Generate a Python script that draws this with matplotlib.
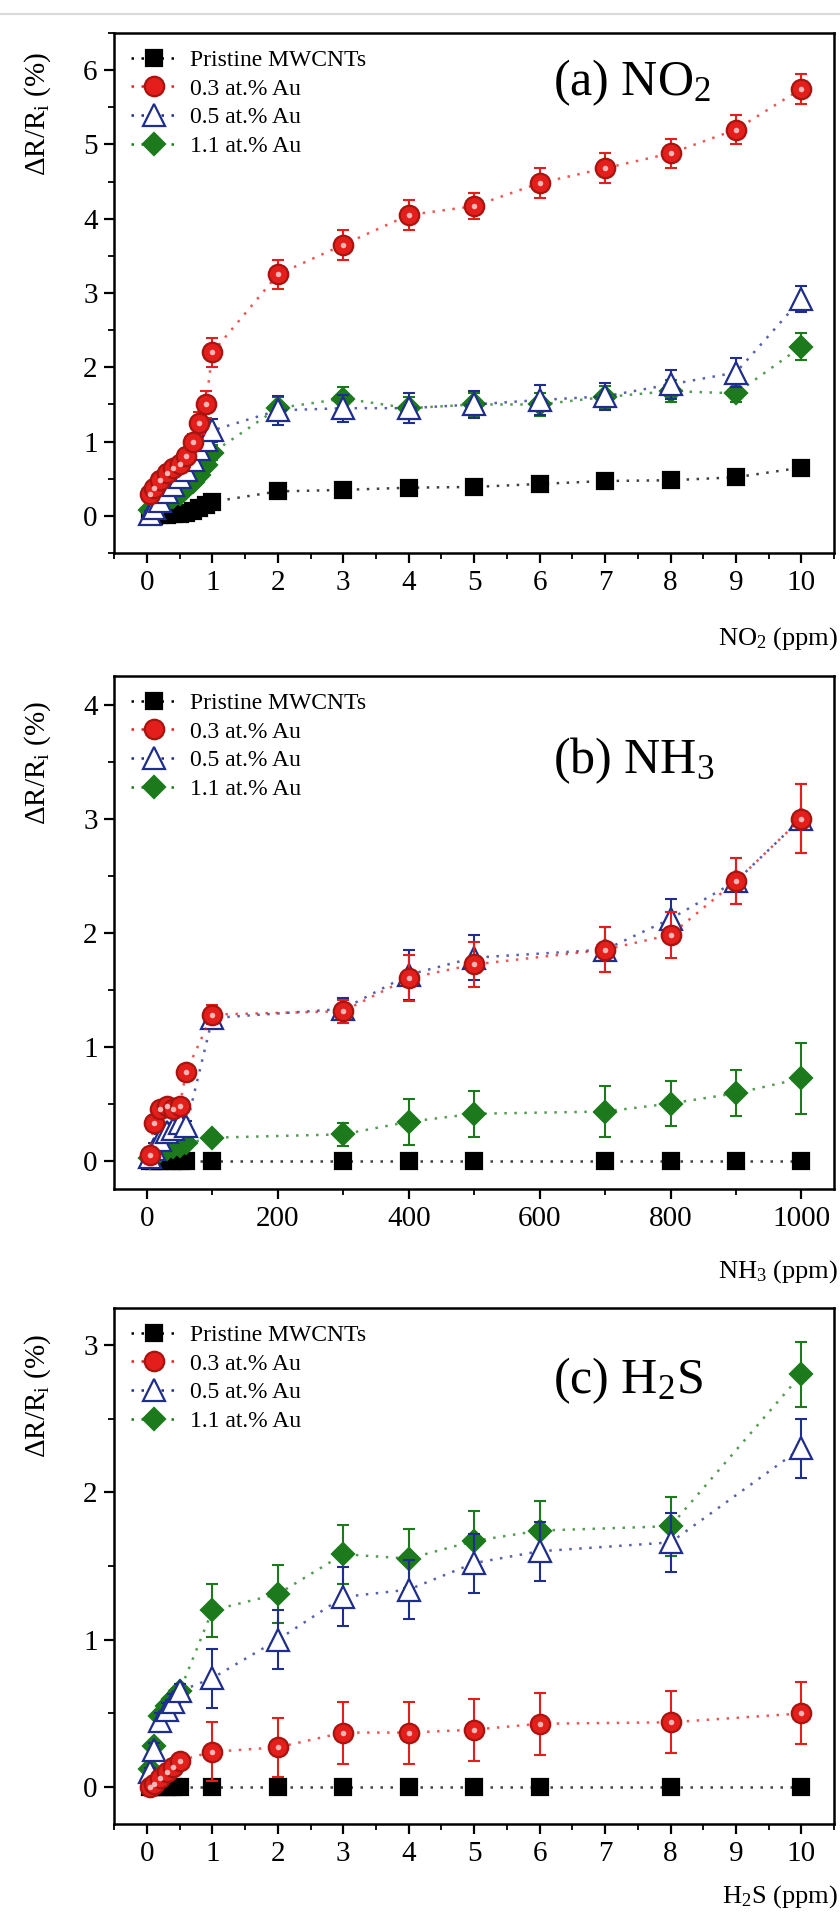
import matplotlib
matplotlib.use("Agg")
import matplotlib.pyplot as plt
from matplotlib.lines import Line2D
from matplotlib.ticker import MultipleLocator

plt.rcParams['font.family'] = ['Liberation Serif', 'DejaVu Serif']
plt.rcParams['mathtext.fontset'] = 'custom'
plt.rcParams['mathtext.rm'] = 'Liberation Serif'
plt.rcParams['mathtext.it'] = 'Liberation Serif:italic'

labels = ["Pristine MWCNTs", "0.3 at.% Au", "0.5 at.% Au", "1.1 at.% Au"]

# (a) NO2
no2_x = [0.05, 0.1, 0.2, 0.3, 0.4, 0.5, 0.6, 0.7, 0.8, 0.9, 1, 2, 3, 4, 5, 6, 7, 8, 9, 10]
no2_pristine = [0.0, 0.0, 0.01, 0.01, 0.02, 0.03, 0.04, 0.06, 0.1, 0.15, 0.19, 0.33, 0.35, 0.38, 0.39, 0.43, 0.47, 0.48, 0.52, 0.65]
no2_au03 = [0.3, 0.38, 0.48, 0.58, 0.65, 0.7, 0.8, 1.0, 1.25, 1.5, 2.2, 3.25, 3.65, 4.05, 4.17, 4.48, 4.68, 4.88, 5.2, 5.75]
no2_au05 = [0.02, 0.1, 0.2, 0.32, 0.42, 0.52, 0.62, 0.75, 0.9, 1.02, 1.15, 1.42, 1.45, 1.45, 1.5, 1.56, 1.61, 1.77, 1.93, 2.92]
no2_au11 = [0.08, 0.12, 0.15, 0.2, 0.25, 0.3, 0.38, 0.45, 0.55, 0.68, 0.85, 1.45, 1.58, 1.45, 1.5, 1.5, 1.6, 1.68, 1.65, 2.28]
no2_err_pristine = [0.02, 0.02, 0.02, 0.02, 0.02, 0.02, 0.02, 0.02, 0.03, 0.03, 0.03, 0.05, 0.05, 0.05, 0.05, 0.05, 0.05, 0.05, 0.05, 0.05]
no2_err_au03 = [0.05, 0.05, 0.05, 0.05, 0.05, 0.05, 0.08, 0.1, 0.15, 0.18, 0.2, 0.2, 0.2, 0.2, 0.18, 0.2, 0.2, 0.2, 0.2, 0.2]
no2_err_au05 = [0.05, 0.05, 0.05, 0.05, 0.05, 0.05, 0.08, 0.1, 0.12, 0.15, 0.15, 0.2, 0.18, 0.2, 0.18, 0.2, 0.18, 0.2, 0.2, 0.18]
no2_err_au11 = [0.03, 0.03, 0.03, 0.03, 0.03, 0.04, 0.05, 0.05, 0.06, 0.08, 0.1, 0.15, 0.15, 0.15, 0.15, 0.15, 0.15, 0.15, 0.12, 0.18]

# (b) NH3
nh3_x = [5, 10, 20, 30, 40, 50, 60, 100, 300, 400, 500, 700, 800, 900, 1000]
nh3_pristine = [0, 0, 0, 0, 0, 0, 0, 0, 0, 0, 0, 0, 0, 0, 0]
nh3_au03 = [0.05, 0.33, 0.45, 0.48, 0.45, 0.48, 0.78, 1.28, 1.31, 1.6, 1.72, 1.85, 1.98, 2.45, 3.0]
nh3_au05 = [0.03, 0.1, 0.18, 0.25, 0.28, 0.33, 0.3, 1.25, 1.33, 1.63, 1.78, 1.85, 2.12, 2.45, 3.0]
nh3_au11 = [0.02, 0.05, 0.08, 0.1, 0.12, 0.13, 0.15, 0.2, 0.23, 0.34, 0.41, 0.43, 0.5, 0.59, 0.72]
nh3_err_pristine = [0.01, 0.01, 0.01, 0.01, 0.01, 0.01, 0.01, 0.01, 0.01, 0.01, 0.01, 0.01, 0.01, 0.01, 0.01]
nh3_err_au03 = [0.03, 0.05, 0.05, 0.05, 0.05, 0.05, 0.05, 0.08, 0.1, 0.2, 0.2, 0.2, 0.2, 0.2, 0.3]
nh3_err_au05 = [0.03, 0.05, 0.05, 0.05, 0.05, 0.05, 0.05, 0.08, 0.1, 0.22, 0.2, 0.2, 0.17, 0.2, 0.3]
nh3_err_au11 = [0.02, 0.02, 0.02, 0.02, 0.02, 0.02, 0.02, 0.05, 0.1, 0.2, 0.2, 0.22, 0.2, 0.2, 0.31]

# (c) H2S
h2s_x = [0.05, 0.1, 0.2, 0.3, 0.4, 0.5, 1, 2, 3, 4, 5, 6, 8, 10]
h2s_pristine = [0, 0, 0, 0, 0, 0, 0, 0, 0, 0, 0, 0, 0, 0]
h2s_au03 = [0.0, 0.02, 0.06, 0.1, 0.14, 0.18, 0.24, 0.27, 0.37, 0.37, 0.39, 0.43, 0.44, 0.5]
h2s_au05 = [0.1, 0.25, 0.45, 0.52, 0.58, 0.65, 0.74, 1.0, 1.29, 1.34, 1.52, 1.6, 1.66, 2.3]
h2s_au11 = [0.12, 0.28, 0.48, 0.55, 0.6, 0.65, 1.2, 1.31, 1.58, 1.55, 1.67, 1.74, 1.77, 2.8]
h2s_err_pristine = [0.01, 0.01, 0.01, 0.01, 0.01, 0.01, 0.01, 0.01, 0.01, 0.01, 0.01, 0.01, 0.01, 0.01]
h2s_err_au03 = [0.02, 0.02, 0.03, 0.03, 0.03, 0.04, 0.2, 0.2, 0.21, 0.21, 0.21, 0.21, 0.21, 0.21]
h2s_err_au05 = [0.03, 0.05, 0.05, 0.05, 0.05, 0.05, 0.2, 0.2, 0.2, 0.2, 0.2, 0.2, 0.2, 0.2]
h2s_err_au11 = [0.03, 0.03, 0.04, 0.04, 0.04, 0.05, 0.18, 0.2, 0.2, 0.2, 0.2, 0.2, 0.2, 0.22]

colors = ['black', '#e41e1a', '#1f2d8c', '#1c7a1c']
markers = ['s', 'o', '^', 'D']
sizes = [12, 14, 16, 11]
faces = ['black', '#e41e1a', 'white', '#1c7a1c']
edges = ['black', '#a81410', '#1f2d8c', '#1c7a1c']

panels = [
    dict(x=no2_x, ys=[no2_pristine, no2_au03, no2_au05, no2_au11],
         errs=[no2_err_pristine, no2_err_au03, no2_err_au05, no2_err_au11],
         xlim=(-0.5, 10.5), ylim=(-0.5, 6.5), xmaj=1, xmin=0.5, ymaj=1, ymin=0.5,
         title="(a) NO$_2$", ty=0.905, xlabel="NO$_2$ (ppm)", xl_y=-0.165, yl_y=0.845,
         rect=[0.136, 0.7118, 0.857, 0.271]),
    dict(x=nh3_x, ys=[nh3_pristine, nh3_au03, nh3_au05, nh3_au11],
         errs=[nh3_err_pristine, nh3_err_au03, nh3_err_au05, nh3_err_au11],
         xlim=(-50, 1050), ylim=(-0.25, 4.25), xmaj=200, xmin=100, ymaj=1, ymin=0.5,
         title="(b) NH$_3$", ty=0.835, xlabel="NH$_3$ (ppm)", xl_y=-0.16, yl_y=0.83,
         rect=[0.136, 0.3804, 0.857, 0.2673]),
    dict(x=h2s_x, ys=[h2s_pristine, h2s_au03, h2s_au05, h2s_au11],
         errs=[h2s_err_pristine, h2s_err_au03, h2s_err_au05, h2s_err_au11],
         xlim=(-0.5, 10.5), ylim=(-0.25, 3.25), xmaj=1, xmin=0.5, ymaj=1, ymin=0.5,
         title="(c) H$_2$S", ty=0.86, xlabel="H$_2$S (ppm)", xl_y=-0.14, yl_y=0.83,
         rect=[0.136, 0.0495, 0.857, 0.2689]),
]
# draw order: pristine, 1.1, 0.5 (white triangles), 0.3 on top
order = [0, 3, 2, 1]

fig = plt.figure(figsize=(8.4, 19.19), dpi=100)
fig.add_artist(Line2D([0, 1], [1 - 14 / 1919] * 2, color='#d9d9d9', lw=1.5,
                      transform=fig.transFigure))

for p in panels:
    ax = fig.add_axes(p['rect'])
    for k, i in enumerate(order):
        x = p['x']
        y = p['ys'][i]
        c = colors[i]
        z = 2 + 3 * k
        ax.plot(x, y, ls=(0, (1, 3)), lw=1.8, color=c, alpha=0.75, zorder=z)
        ax.errorbar(x, y, yerr=p['errs'][i], fmt='none', ecolor=c,
                    elinewidth=1.5, capsize=4, capthick=1.5, zorder=z + 1)
        ax.plot(x, y, ls='none', marker=markers[i], ms=sizes[i], mfc=faces[i],
                mec=edges[i], mew=1.6, zorder=z + 2)
        if i == 1:
            ax.plot(x, y, ls='none', marker='o', ms=4, mfc='#ffb4b4',
                    mec='none', zorder=z + 2)

    handles = [Line2D([], [], ls=(0, (1, 3)), lw=1.8, color=colors[i], marker=markers[i],
                      ms=sizes[i], mfc=faces[i], mec=edges[i], mew=1.6)
               for i in range(4)]
    ax.legend(handles, labels, loc='upper left', frameon=False, fontsize=17,
              handlelength=2.0, handletextpad=0.5, labelspacing=0.3,
              borderaxespad=0.3, numpoints=1)

    ax.text(0.61, p['ty'], p['title'], transform=ax.transAxes, fontsize=36,
            ha='left', va='center')

    ax.set_xlim(p['xlim'])
    ax.set_ylim(p['ylim'])
    ax.xaxis.set_major_locator(MultipleLocator(p['xmaj']))
    ax.xaxis.set_minor_locator(MultipleLocator(p['xmin']))
    ax.yaxis.set_major_locator(MultipleLocator(p['ymaj']))
    ax.yaxis.set_minor_locator(MultipleLocator(p['ymin']))
    ax.tick_params(which='major', direction='out', length=7, width=1.6, labelsize=21, pad=5)
    ax.tick_params(which='minor', direction='out', length=4, width=1.3)
    for s in ax.spines.values():
        s.set_linewidth(1.8)

    ax.set_xlabel(p['xlabel'], fontsize=19, ha='right', va='center')
    ax.xaxis.set_label_coords(1.005, p['xl_y'])
    ax.set_ylabel("ΔR/R$_\\mathrm{i}$ (%)", fontsize=21, ha='center', va='center')
    ax.yaxis.set_label_coords(-0.107, p['yl_y'])

fig.savefig("out.png", dpi=100)
